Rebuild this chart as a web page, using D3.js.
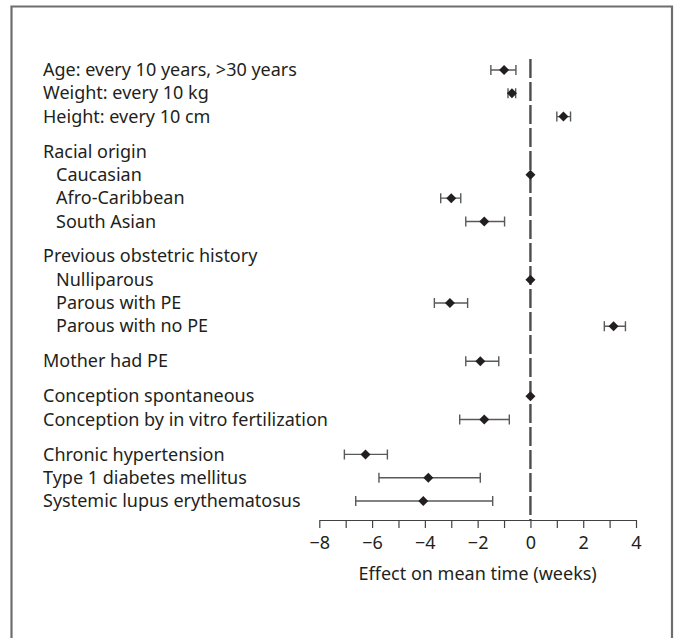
<!DOCTYPE html>
<html lang="en">
<head>
<meta charset="UTF-8">
<title>Effect on mean time (weeks)</title>
<script src="https://d3js.org/d3.v7.min.js"></script>
<style>
    body { margin: 0; background: #fff; }
    svg { display: block; }
    text { font-family: "Noto Sans", "DejaVu Sans", sans-serif; fill: #231f20; }
</style>
</head>
<body>
<script>
    // rows of the forest plot (top to bottom)
    const labels = [
        "Age: every 10 years, >30 years", "Weight: every 10 kg", "Height: every 10 cm",
        "Racial origin", "Caucasian", "Afro-Caribbean", "South Asian",
        "Previous obstetric history", "Nulliparous", "Parous with PE", "Parous with no PE",
        "Mother had PE",
        "Conception spontaneous", "Conception by in vitro fertilization",
        "Chronic hypertension", "Type 1 diabetes mellitus", "Systemic lupus erythematosus"
    ];
    // row slot (groups are separated by half a row)
    const rowPos = [0, 1, 2, 3.5, 4.5, 5.5, 6.5, 8, 9, 10, 11, 12.5, 14, 15, 16.5, 17.5, 18.5];
    const indented = [0, 0, 0, 0, 1, 1, 1, 0, 1, 1, 1, 0, 0, 0, 0, 0, 0];
    // estimate and 95% CI, null for header rows
    const estimate = [-1.0, -0.7, 1.25, null, 0, -3.0, -1.75, null, 0, -3.05, 3.15, -1.9, 0, -1.75, -6.25, -3.87, -4.06];
    const lower    = [-1.5, -0.85, 1.0, null, 0, -3.4, -2.45, null, 0, -3.64, 2.8, -2.45, 0, -2.68, -7.05, -5.74, -6.62];
    const upper    = [-0.55, -0.56, 1.52, null, 0, -2.64, -0.98, null, 0, -2.38, 3.6, -1.2, 0, -0.8, -5.42, -1.9, -1.43];

    const xDomain = [-8, 4];
    const xTicks = d3.range(-8, 5, 1);
    const xTitle = "Effect on mean time (weeks)";

    const W = 678, H = 638;
    const fontSize = "18px";
    const svg = d3.select("body").append("svg").attr("width", W).attr("height", H);

    // open frame (no bottom edge)
    svg.append("path")
        .attr("d", `M11.5,${H + 2}V6.5H672V${H + 2}`)
        .attr("fill", "none").attr("stroke", "#6d6e70").attr("stroke-width", 2.2);

    const x = d3.scaleLinear().domain(xDomain).range([319.3, 636]);
    const y = d3.scaleLinear().domain([0, 18.5]).range([70, 501]);
    const axisY = 520;

    const rows = labels.map((l, i) => ({
        label: l, pos: rowPos[i], indent: indented[i],
        est: estimate[i], lo: lower[i], hi: upper[i]
    }));

    // labels
    svg.append("g").selectAll("text").data(rows).join("text")
        .attr("x", d => d.indent ? 56 : 43)
        .attr("y", d => y(d.pos))
        .attr("dy", "0.34em")
        .style("font-size", fontSize)
        .text(d => d.label);

    // reference line at 0
    svg.append("line")
        .attr("x1", x(0)).attr("x2", x(0))
        .attr("y1", 59).attr("y2", axisY)
        .attr("stroke", "#4d4d4f").attr("stroke-width", 2.4)
        .attr("stroke-dasharray", "19,4");

    const data = rows.filter(d => d.est !== null);

    const bars = svg.append("g").selectAll("g").data(data).join("g")
        .attr("transform", d => `translate(0,${y(d.pos)})`);

    bars.filter(d => d.hi > d.lo).append("path")
        .attr("d", d => `M${x(d.lo)},-5V5M${x(d.lo)},0H${x(d.hi)}M${x(d.hi)},-5V5`)
        .attr("fill", "none").attr("stroke", "#58595b").attr("stroke-width", 1.4);

    bars.append("path")
        .attr("d", d => `M${x(d.est)},-5L${x(d.est) + 5},0L${x(d.est)},5L${x(d.est) - 5},0Z`)
        .attr("fill", "#231f20");

    // x axis
    const axis = svg.append("g")
        .attr("transform", `translate(0,${axisY})`)
        .call(d3.axisBottom(x).tickValues(xTicks).tickSize(8).tickSizeOuter(0)
            .tickFormat(d => d % 2 === 0 ? d3.format("")(d) : ""));
    axis.selectAll("path, line").attr("stroke", "#414042").attr("stroke-width", 1.2);
    axis.selectAll("text").style("font-size", fontSize).attr("fill", "#231f20")
        .attr("font-family", null).attr("y", 16);

    svg.append("text")
        .attr("x", (x(xDomain[0]) + x(xDomain[1])) / 2)
        .attr("y", 580)
        .attr("text-anchor", "middle")
        .style("font-size", fontSize)
        .text(xTitle);
</script>
</body>
</html>
